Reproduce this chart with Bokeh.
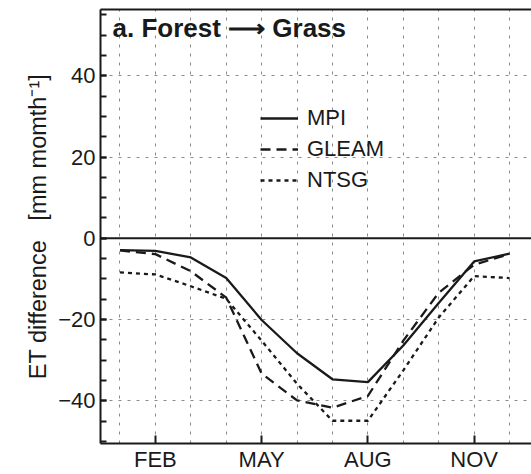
from bokeh.plotting import figure
from bokeh.models import (Range1d, FixedTicker, LinearAxis, Legend, LegendItem,
                          Label, Span)
from bokeh.embed import file_html
from bokeh.resources import INLINE

months = [1, 2, 3, 4, 5, 6, 7, 8, 9, 10, 11, 12]
tick_months = [2, 5, 8, 11]
tick_labels = ["FEB", "MAY", "AUG", "NOV"]
y_ticks = [-40, -20, 0, 20, 40]

mpi = [-2.9, -3.1, -4.7, -9.8, -20.1, -28.3, -34.7, -35.4, -26.4, -15.9, -5.7, -3.8]
gleam = [-3.0, -3.9, -8.1, -14.6, -33.3, -39.9, -41.7, -38.8, -25.2, -13.4, -6.5, -3.9]
ntsg = [-8.4, -8.9, -11.8, -14.9, -25.2, -35.8, -44.9, -44.9, -32.5, -19.5, -9.3, -9.8]

FONT = "Liberation Sans"
INK = "#1a1a1a"

p = figure(width=531, height=474, output_backend="svg", toolbar_location=None,
           x_range=Range1d(0.45, 12.62), y_range=Range1d(-50.5, 56.3),
           min_border_left=100, min_border_right=0, min_border_top=9,
           min_border_bottom=27)
p.outline_line_color = None
p.background_fill_color = "white"
p.border_fill_color = "white"

# grid
p.xgrid.ticker = FixedTicker(ticks=months)
p.ygrid.ticker = FixedTicker(ticks=[-40, -20, 20, 40])
for g in (p.xgrid[0], p.ygrid[0]):
    g.grid_line_color = "#8a8a8a"
    g.grid_line_width = 1
    g.grid_line_dash = "3 6"

# x axis
xa = p.xaxis[0]
xa.ticker = FixedTicker(ticks=tick_months)
xa.major_label_overrides = {m: l for m, l in zip(tick_months, tick_labels)}
xa.major_tick_in = 8
xa.major_tick_out = 0
xa.minor_tick_line_color = None
xa.major_label_standoff = 3

# y axis
ya = p.yaxis[0]
ya.ticker = FixedTicker(ticks=y_ticks, minor_ticks=list(range(-50, 56, 5)))
ya.major_label_overrides = {-40: "\u221240", -20: "\u221220"}
ya.major_tick_in = 6
ya.major_tick_out = 0
ya.minor_tick_in = 6
ya.minor_tick_out = 0
ya.major_label_standoff = 5
ya.axis_label = "ET difference\u00a0\u00a0\u00a0[mm momth\u207b\u00b9]"
ya.axis_label_text_font_style = "normal"
ya.axis_label_standoff = 4

for ax in (xa, ya):
    ax.axis_line_width = 2
    ax.axis_line_color = INK
    ax.major_tick_line_width = 2
    ax.major_tick_line_color = INK
    ax.minor_tick_line_width = 2
    ax.minor_tick_line_color = INK if ax is ya else None
    ax.major_label_text_font = FONT
    ax.major_label_text_font_size = "22px"
    ax.major_label_text_color = INK
    ax.axis_label_text_font = FONT
    ax.axis_label_text_font_size = "23.5px"
    ax.axis_label_text_color = INK

# top frame line
top = LinearAxis(ticker=FixedTicker(ticks=[]), major_label_text_font_size="0px",
                 axis_line_width=2, axis_line_color=INK,
                 major_tick_line_color=None, minor_tick_line_color=None)
p.add_layout(top, "above")

# zero line
p.add_layout(Span(location=0, dimension="width", line_color=INK, line_width=2))

r1 = p.line(months, mpi, line_color=INK, line_width=2.3)
r2 = p.line(months, gleam, line_color=INK, line_width=2.3, line_dash="10 6")
r3 = p.line(months, ntsg, line_color=INK, line_width=2.3, line_dash="4 4")

legend = Legend(items=[LegendItem(label="MPI", renderers=[r1]),
                       LegendItem(label="GLEAM", renderers=[r2]),
                       LegendItem(label="NTSG", renderers=[r3])],
                location=(160, 250), orientation="vertical",
                glyph_width=38, glyph_height=20, label_height=20,
                label_standoff=9, spacing=5, padding=0, margin=0,
                border_line_color=None, background_fill_alpha=0,
                label_text_font=FONT, label_text_font_size="22px",
                label_text_color=INK)
p.add_layout(legend, "center")

p.add_layout(Label(x=12, y=416, x_units="screen", y_units="screen",
                   text="a. Forest \u27f6 Grass", text_font=FONT,
                   text_font_size="26px", text_font_style="bold",
                   text_color=INK, text_baseline="middle"))

open("out.html", "w").write(file_html(p, INLINE))
